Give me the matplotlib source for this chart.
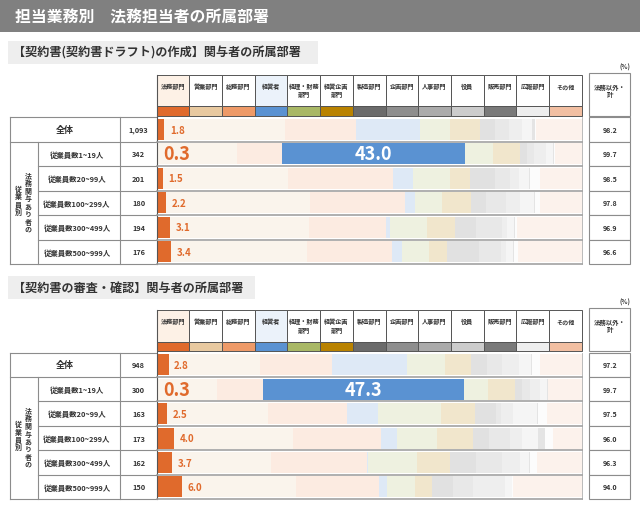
import matplotlib
matplotlib.use('Agg')
import matplotlib.pyplot as plt
from matplotlib.patches import Rectangle
from matplotlib import colors as mcolors

plt.rcParams['font.family'] = ['Noto Sans CJK JP', 'DejaVu Sans']

# ---------------- data ----------------
title = '担当業務別　法務担当者の所属部署'
section_titles = ['【契約書(契約書ドラフト)の作成】関与者の所属部署',
                  '【契約書の審査・確認】関与者の所属部署']
departments = ['法務部門', '営業部門', '総務部門', '経営者', '経理・財務\n部門', '経営企画\n部門',
               '製造部門', '企画部門', '人事部門', '役員', '販売部門', '広報部門', 'その他']
dept_colors = ['#E06A2C', '#E8C9A0', '#EE9A68', '#5A92D2', '#A9B866', '#B98200',
               '#6B6B6B', '#8E8E8E', '#ABABAB', '#CCCCCC', '#7A7A7A', '#EEEEEE', '#F2BFA2']
row_labels = ['全体', '従業員数1~19人', '従業員数20~99人', '従業員数100~299人',
              '従業員数300~499人', '従業員数500~999人']
group_label_right = '法務関与あり者の'
group_label_left = '従業員別'
total_header = ['法務以外・', '計']
unit_label = '(%)'

s1_counts = ['1,093', '342', '201', '180', '194', '176']
s1_values = [
    [1.8, 28.5, 16.6, 15.1, 6.9, 7.1, 3.7, 3.1, 3.1, 2.5, 0.5, 0.3, 10.8],
    [0.3, 18.5, 10.7, 43.0, 6.6, 6.4, 1.6, 1.7, 2.7, 1.8, 0.2, 0.1, 6.4],
    [1.5, 29.5, 24.7, 4.5, 8.7, 4.9, 5.9, 3.5, 2.0, 2.4, 0.2, 2.4, 9.8],
    [2.2, 33.8, 22.4, 2.4, 6.3, 6.8, 3.5, 4.7, 3.4, 3.3, 0.2, 1.2, 9.8],
    [3.1, 32.7, 18.2, 1.0, 8.5, 6.8, 4.8, 6.1, 1.3, 1.6, 0.3, 0.3, 15.3],
    [3.4, 31.9, 20.0, 2.4, 6.4, 4.3, 7.5, 5.1, 1.2, 1.7, 0.2, 1.0, 14.9],
]
s1_others = ['98.2', '99.7', '98.5', '97.8', '96.9', '96.6']

s2_counts = ['948', '300', '163', '173', '162', '150']
s2_values = [
    [2.8, 21.5, 16.9, 17.8, 8.9, 6.0, 3.9, 3.5, 3.9, 2.8, 0.2, 2.0, 9.8],
    [0.3, 14.0, 10.8, 47.3, 5.5, 6.3, 1.7, 2.0, 2.4, 1.6, 0.1, 0.1, 7.9],
    [2.5, 23.8, 18.4, 7.4, 14.9, 7.8, 5.1, 1.2, 2.7, 5.6, 0.2, 2.2, 8.2],
    [4.0, 28.0, 20.8, 3.8, 9.4, 8.5, 3.7, 4.9, 2.8, 3.7, 1.8, 1.8, 6.8],
    [3.7, 23.1, 22.7, 0.3, 11.5, 7.7, 6.2, 6.1, 4.2, 2.1, 0.2, 1.6, 10.6],
    [6.0, 26.8, 19.5, 2.0, 6.4, 4.1, 4.9, 4.7, 7.5, 1.6, 0.2, 0.2, 16.1],
]
s2_others = ['97.2', '99.7', '97.5', '96.0', '96.3', '94.0']

# ---------------- layout (pixels) ----------------
W, H = 640, 510
fig = plt.figure(figsize=(W / 100, H / 100), dpi=100, facecolor='white')
bg = fig.add_axes([0, 0, 1, 1])
bg.set_xlim(0, W)
bg.set_ylim(H, 0)
bg.axis('off')
bg.patch.set_alpha(0)
bg.set_zorder(3)

BAR_X0, BAR_X1 = 156.7, 581.7
COL_W = (BAR_X1 - BAR_X0) / len(departments)
LINE = '#8c8c8c'
TXT = '#333333'


def fade(c, a=0.2):
    r, g, b = mcolors.to_rgb(c)
    return (1 - a + a * r, 1 - a + a * g, 1 - a + a * b)


# main title band
bg.add_patch(Rectangle((0, 0), W, 33, facecolor='#808080', edgecolor='none'))
bg.text(15, 17, title, color='white', fontsize=11.4, fontweight='bold', va='center', ha='left')


def draw_section(off, stitle, band_right, counts, values, others):
    # section title band
    bg.add_patch(Rectangle((8, 42 + off), band_right - 8, 23, facecolor='#EEEEEE', edgecolor='none'))
    bg.text(13, 53.5 + off, stitle, color=TXT, fontsize=8.7, fontweight='bold', va='center', ha='left')
    bg.text(630, 67 + off, unit_label, color=TXT, fontsize=4.5, fontweight='bold', va='center', ha='right')

    htop, hmid, hbot = 76 + off, 107.3 + off, 116.7 + off
    r0, rh = 118.3 + off, 24.45
    nrows = len(values)
    r_end = r0 + rh * nrows

    # header cells
    for i, (d, c) in enumerate(zip(departments, dept_colors)):
        x = BAR_X0 + i * COL_W
        face = 'white'
        if i == 0:
            face = '#FDF1E6'
        elif i == 3:
            face = '#EBF2FA'
        bg.add_patch(Rectangle((x, htop), COL_W, hmid - htop, facecolor=face, edgecolor='#555555', lw=0.7))
        bg.add_patch(Rectangle((x, hmid), COL_W, hbot - hmid, facecolor=c, edgecolor='#555555', lw=0.7))
        for k, line in enumerate(d.split('\n')):
            bg.text(x + COL_W / 2, htop + 10.7 + k * 8.3, line, fontsize=4.4, fontweight='bold',
                    color=TXT, ha='center', va='center')

    # total header
    bg.add_patch(Rectangle((589.3, htop - 2), 40.7, hbot - htop + 2, facecolor='white', edgecolor=LINE, lw=0.8))
    bg.text(609.7, htop + 11.5, total_header[0], fontsize=4.6, fontweight='bold', color=TXT, ha='center', va='center')
    bg.text(609.7, htop + 18, total_header[1], fontsize=4.6, fontweight='bold', color=TXT, ha='center', va='center')

    # left table
    bg.plot([10, BAR_X0], [r0, r0], color=LINE, lw=0.8)
    bg.plot([10, 10], [r0, r_end], color=LINE, lw=0.8)
    bg.plot([120, 120], [r0, r_end], color=LINE, lw=0.8)
    bg.plot([37.7, 37.7], [r0 + rh, r_end], color=LINE, lw=0.8)
    bg.plot([BAR_X0, BAR_X0], [htop, r_end], color='#555555', lw=0.8)
    bg.plot([BAR_X1, BAR_X1], [r0, r_end], color='#b0b0b0', lw=0.6)
    for i in range(1, nrows + 1):
        y = r0 + i * rh
        xs = 10 if i in (1, nrows) else 37.7
        bg.plot([xs, BAR_X0], [y, y], color=LINE, lw=0.8)
        bg.plot([BAR_X0, BAR_X1], [y, y], color='#9a9a9a', lw=1.1)

    # row labels and counts
    for i, (lab, n) in enumerate(zip(row_labels, counts)):
        yc = r0 + (i + 0.5) * rh
        if i == 0:
            bg.text(65, yc, lab, fontsize=6.5, fontweight='bold', color=TXT, ha='center', va='center')
        else:
            bg.text(77, yc, lab, fontsize=5.3, fontweight='bold', color=TXT, ha='center', va='center')
        bg.text(138.5, yc, n, fontsize=5.3, fontweight='bold', color=TXT, ha='center', va='center')

    # vertical group label
    gc = r0 + rh + (nrows - 1) * rh / 2
    pitch = 7.8
    for k, ch in enumerate(group_label_right):
        y = gc - 1 + (k - (len(group_label_right) - 1) / 2) * pitch
        bg.text(28, y, ch, fontsize=5.0, fontweight='bold', color=TXT, ha='center', va='center')
    for k, ch in enumerate(group_label_left):
        y = gc - 3 + (k - (len(group_label_left) - 1) / 2) * pitch
        bg.text(18, y, ch, fontsize=5.0, fontweight='bold', color=TXT, ha='center', va='center')

    # right total column
    for i, v in enumerate(others):
        y = r0 + i * rh
        bg.add_patch(Rectangle((589.3, y), 40.7, rh, facecolor='white', edgecolor=LINE, lw=0.8))
        bg.text(609.7, y + rh / 2, v, fontsize=5.0, fontweight='bold', color=TXT, ha='center', va='center')

    # stacked bars
    ax = fig.add_axes([BAR_X0 / W, 1 - r_end / H, (BAR_X1 - BAR_X0) / W, (r_end - r0) / H])
    ax.set_zorder(1)
    ax.patch.set_alpha(0)
    ax.set_xlim(0, 100)
    ax.set_ylim(nrows, 0)
    ax.axis('off')
    for i, row in enumerate(values):
        y = i + 0.5
        left = 0.0
        small = max(row[1:]) > 40
        for j, v in enumerate(row):
            hl = (j == 0) or (v > 40)
            col = dept_colors[j] if hl else fade(dept_colors[j])
            ax.barh(y, v, left=left, height=0.86, color=col, edgecolor='none')
            if j == 0:
                if small:
                    ax.annotate(f'{v:.1f}', xy=(left + v, y), xytext=(3.5, 0), textcoords='offset points',
                                fontsize=13, fontweight='bold', color='#E06A2C', ha='left', va='center')
                else:
                    ax.annotate(f'{v:.1f}', xy=(left + v, y), xytext=(4, 0), textcoords='offset points',
                                fontsize=7, fontweight='bold', color='#E06A2C', ha='left', va='center')
            elif v > 40:
                ax.text(left + v / 2, y, f'{v:.1f}', fontsize=13, fontweight='bold', color='white',
                        ha='center', va='center')
            left += v


draw_section(0, section_titles[0], 318, s1_counts, s1_values, s1_others)
draw_section(235.2, section_titles[1], 255, s2_counts, s2_values, s2_others)

fig.savefig('out.png', dpi=100, facecolor='white')
